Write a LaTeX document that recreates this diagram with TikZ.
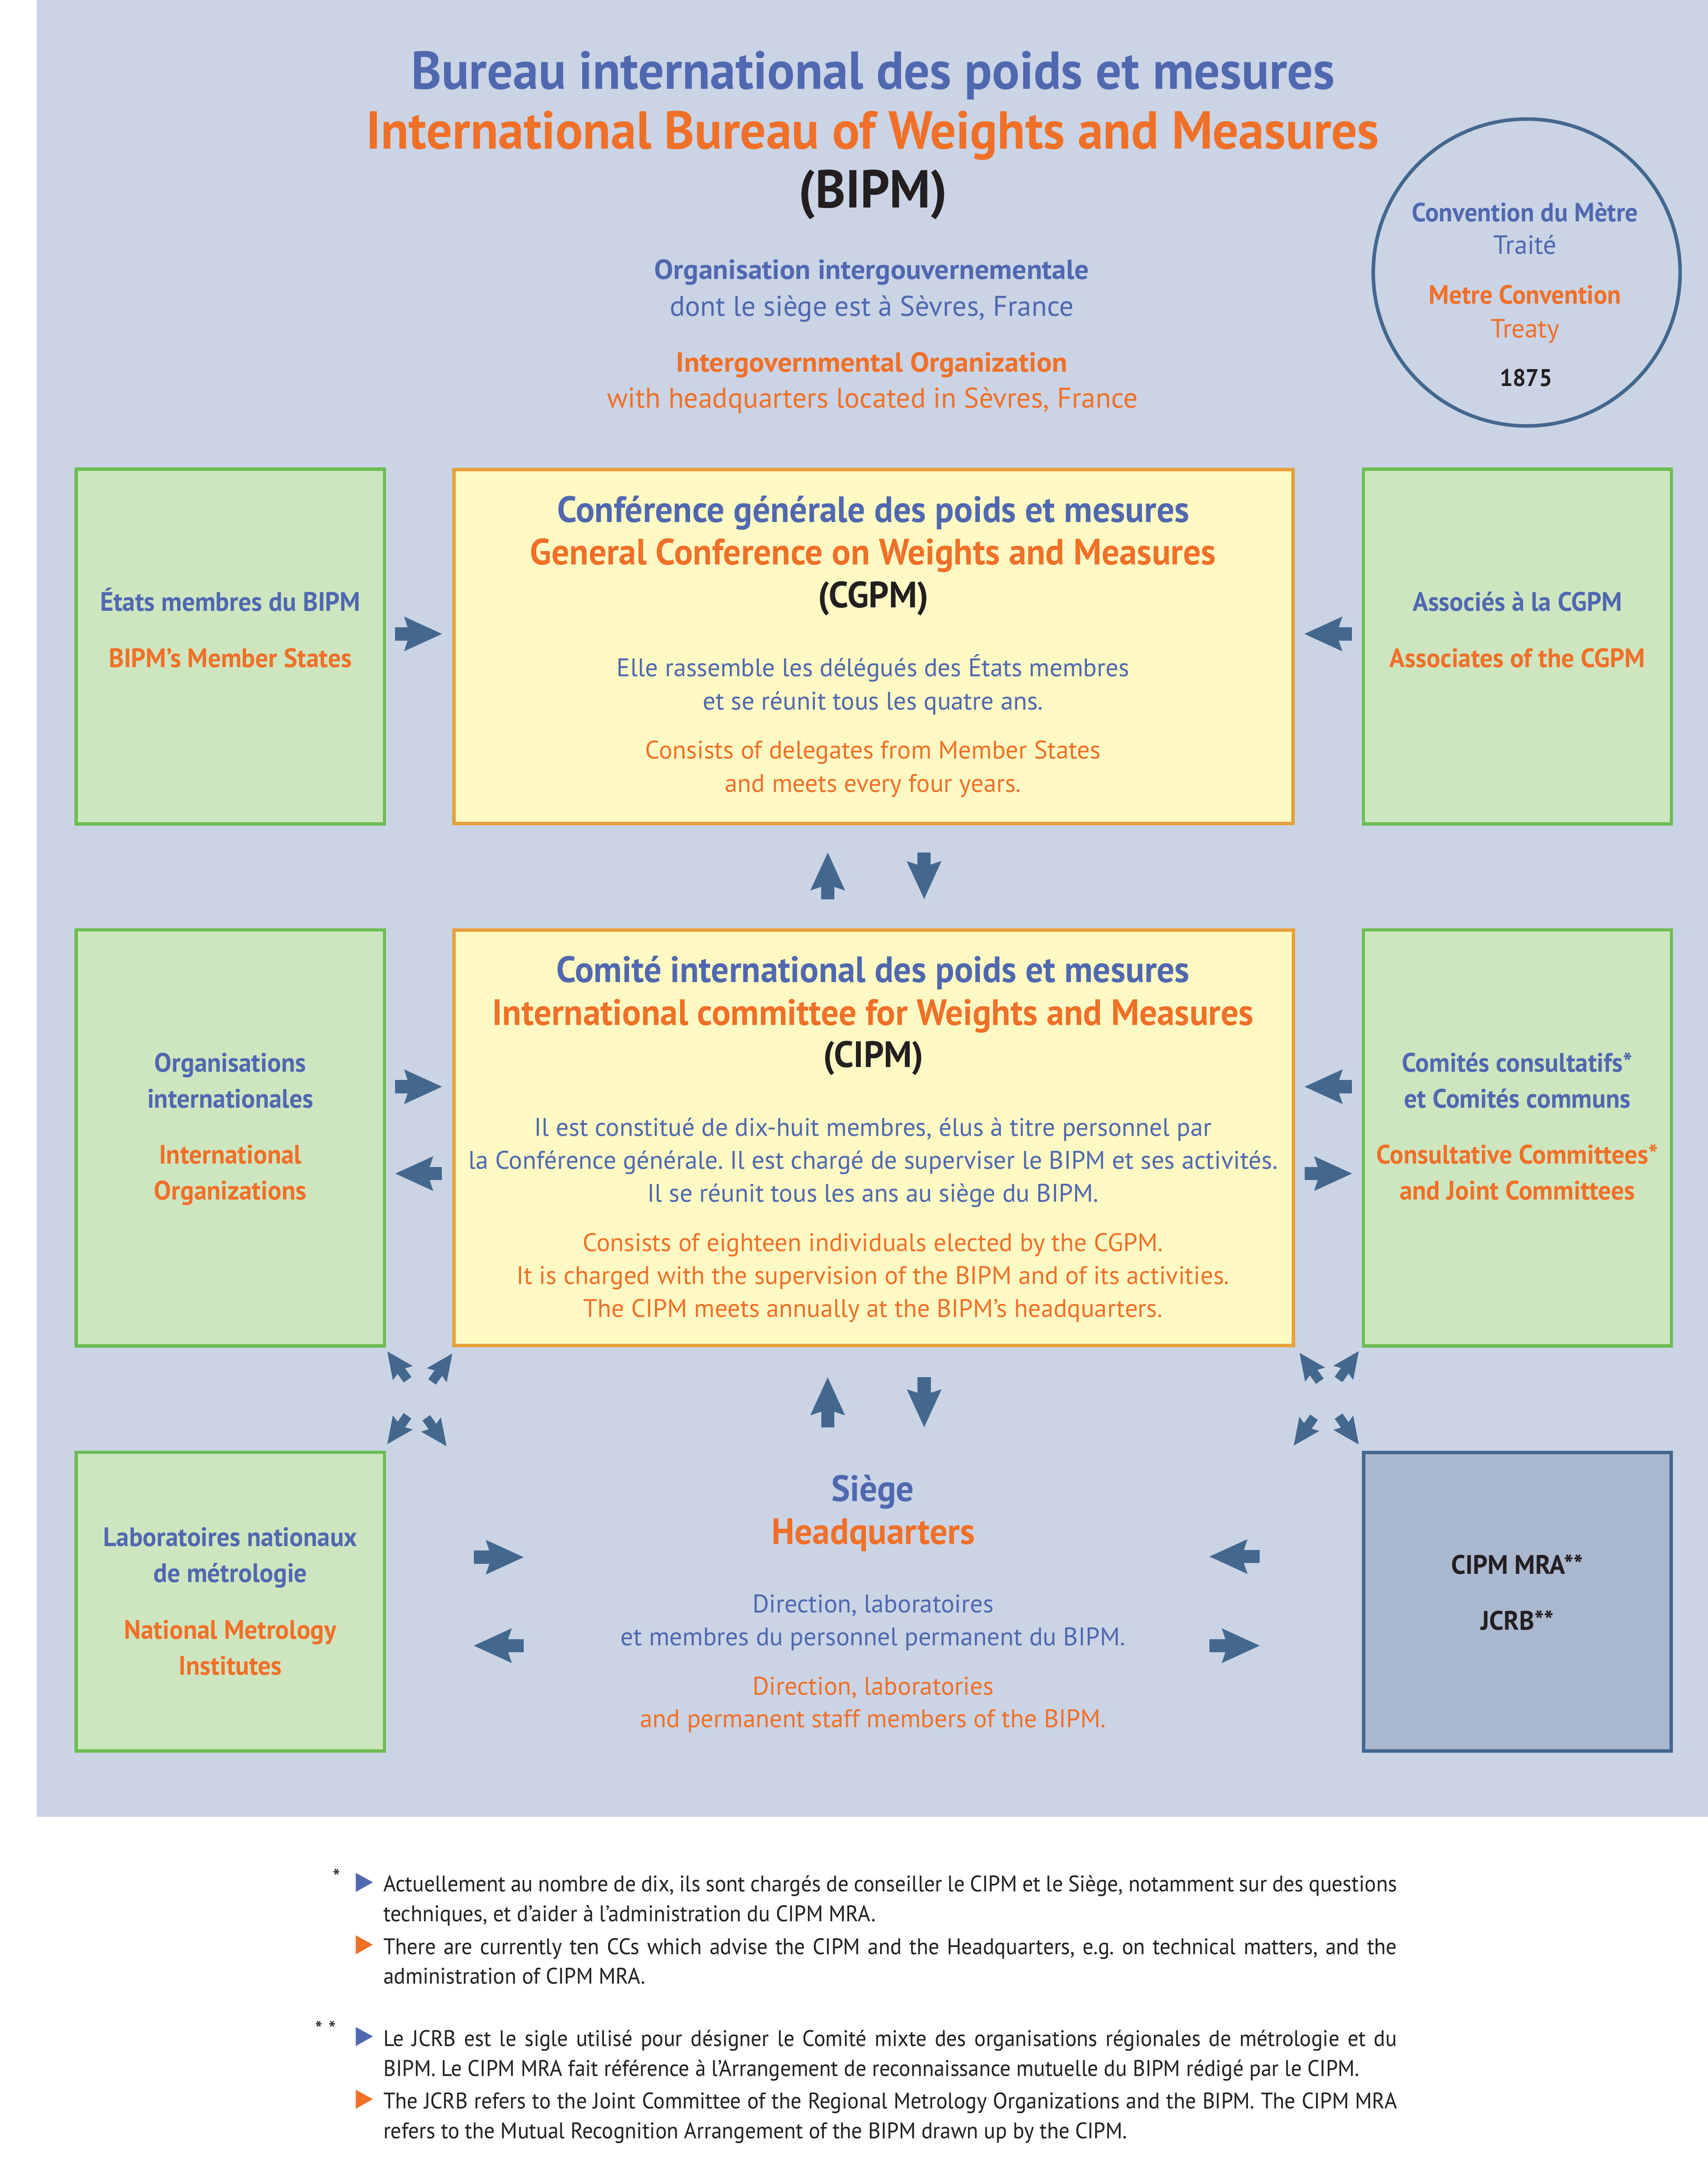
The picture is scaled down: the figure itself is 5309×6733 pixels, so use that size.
\documentclass[tikz,border=0pt]{standalone}
\usepackage{fontspec}
\setmainfont{PT Sans}[BoldFeatures={FakeStretch=0.96}]
\newfontfamily\subfont{PT Sans}[BoldFeatures={FakeStretch=1.03}]
\newfontfamily\notefont{PT Sans}[FakeStretch=0.95]
\usetikzlibrary{arrows.meta,calc}
\frenchspacing

\definecolor{panel}{HTML}{CAD4E5}
\definecolor{leaf}{HTML}{CEE6C0}
\definecolor{leafline}{HTML}{6CBD50}
\definecolor{cream}{HTML}{FFFAC4}
\definecolor{creamline}{HTML}{E6A03C}
\definecolor{steel}{HTML}{44678E}
\definecolor{slate}{HTML}{AAB8D0}
\definecolor{frblue}{HTML}{5068B0}
\definecolor{enorange}{HTML}{F07028}
\definecolor{ink}{HTML}{231F20}

\tikzset{
  greenbox/.style={draw=leafline, fill=leaf, line width=1pt, minimum width=95.8pt},
  yellowbox/.style={draw=creamline, fill=cream, line width=1.1pt, minimum width=260.9pt},
  mrabox/.style={draw=steel, fill=slate, line width=1.1pt, minimum width=95.7pt},
  ring/.style={draw=steel, line width=1.1pt, circle, minimum size=95.4pt},
  txt/.style={anchor=base},
  title/.style={txt, font=\fontsize{16.6}{19}\selectfont\bfseries},
  boxtitle/.style={txt, font=\fontsize{11.4}{13}\selectfont\bfseries},
  label/.style={txt, font=\fontsize{8.3}{10}\selectfont\bfseries},
  subhead/.style={txt, font=\subfont\fontsize{8.6}{10}\selectfont\bfseries},
  subtext/.style={txt, font=\fontsize{8.85}{10}\selectfont},
  ringhead/.style={txt, font=\fontsize{8.2}{10}\selectfont\bfseries},
  ringtext/.style={txt, font=\fontsize{8.2}{10}\selectfont},
  body/.style={txt, font=\fontsize{7.9}{10}\selectfont},
  note/.style={anchor=base west, text=ink, font=\notefont\fontsize{7}{9}\selectfont},
  flow/.style={draw=steel, line width=4.1pt,
    -{Stealth[length=11.8pt, width=10.8pt, inset=1.8pt, line width=0pt]}},
  smallflow/.style={draw=steel, line width=2.9pt,
    -{Stealth[length=8.3pt, width=7.6pt, inset=1.3pt, line width=0pt]}}
}

\begin{document}
\begin{tikzpicture}[x=0.1pt,y=0.1pt]
\tikzstyle{every node}+=[inner sep=0pt]
\useasboundingbox (0,0) rectangle (5309,-6733);
\fill[panel] (115,0) rectangle (5309,-5647);

\node[title, text=frblue] (bipmfr) at (2714,-277) {Bureau international des poids et mesures};
\node[title, text=enorange] (bipmen) at (2713,-462) {International Bureau of Weights and Measures};
\node[title, text=ink] (bipm) at (2714,-645) {(BIPM)};
\node[subhead, text=frblue] (orgfr) at (2710,-868) {Organisation intergouvernementale};
\node[subtext, text=frblue] (seatfr) at (2710,-982) {dont le siège est à Sèvres, France};
\node[subhead, text=enorange] (orgen) at (2710,-1156) {Intergovernmental Organization};
\node[subtext, text=enorange] (seaten) at (2712,-1268) {with headquarters located in Sèvres, France};

\node[ring] (treaty) at (4746,-847) {};
\node[ringhead, text=frblue] (convfr) at (4741,-689) {Convention du Mètre};
\node[ringtext, text=frblue] (traite) at (4741,-790) {Traité};
\node[ringhead, text=enorange] (conven) at (4741,-945) {Metre Convention};
\node[ringtext, text=enorange] (treatyen) at (4741,-1049) {Treaty};
\node[ringhead, text=ink, font=\fontsize{7.5}{10}\selectfont\bfseries] (year) at (4744,-1201) {1875};

\node[greenbox, minimum height=110.3pt] (states) at (716,-2009.5) {};
\node[yellowbox, minimum width=260.8pt, minimum height=110pt] (cgpm) at (2715.5,-2009.5) {};
\node[greenbox, minimum height=110.3pt] (assoc) at (4717,-2009.5) {};
\node[greenbox, minimum height=129.4pt] (orgs) at (716,-3537) {};
\node[yellowbox, minimum height=129.2pt] (cipm) at (2716,-3537) {};
\node[greenbox, minimum height=129.4pt] (ccs) at (4717,-3537) {};
\node[greenbox, minimum height=92.9pt] (labs) at (716,-4978.5) {};
\node[mrabox, minimum height=92.8pt] (mra) at (4717,-4978.5) {};

\node[label, text=frblue] (statesfr) at (716,-1900) {États membres du BIPM};
\node[label, text=enorange] (statesen) at (716,-2074) {BIPM’s Member States};
\node[label, text=frblue] (assocfr) at (4717,-1900) {Associés à la CGPM};
\node[label, text=enorange] (assocen) at (4717,-2074) {Associates of the CGPM};

\node[boxtitle, text=frblue] (cgpmfr) at (2715,-1623) {Conférence générale des poids et mesures};
\node[boxtitle, text=enorange] (cgpmen) at (2714,-1755) {General Conference on Weights and Measures};
\node[boxtitle, text=ink] (cgpmabbr) at (2715,-1888) {(CGPM)};
\node[body, text=frblue] (cgpmfra) at (2714,-2103) {Elle rassemble les délégués des États membres};
\node[body, text=frblue] (cgpmfrb) at (2714,-2206) {et se réunit tous les quatre ans.};
\node[body, text=enorange] (cgpmena) at (2714,-2359) {Consists of delegates from Member States};
\node[body, text=enorange] (cgpmenb) at (2714,-2462) {and meets every four years.};

\node[label, text=frblue] (orgsfra) at (716,-3332) {Organisations};
\node[label, text=frblue] (orgsfrb) at (716,-3444) {internationales};
\node[label, text=enorange] (orgsena) at (716,-3618) {International};
\node[label, text=enorange] (orgsenb) at (716,-3730) {Organizations};

\node[boxtitle, text=frblue] (cipmfr) at (2714,-3053) {Comité international des poids et mesures};
\node[boxtitle, text=enorange] (cipmen) at (2714,-3187) {International committee for Weights and Measures};
\node[boxtitle, text=ink] (cipmabbr) at (2715,-3317) {(CIPM)};
\node[body, text=frblue] (cipmfra) at (2714,-3531) {Il est constitué de dix-huit membres, élus à titre personnel par};
\node[body, text=frblue] (cipmfrb) at (2714,-3634) {la Conférence générale. Il est chargé de superviser le BIPM et ses activités.};
\node[body, text=frblue] (cipmfrc) at (2714,-3736) {Il se réunit tous les ans au siège du BIPM.};
\node[body, text=enorange] (cipmena) at (2714,-3889) {Consists of eighteen individuals elected by the CGPM.};
\node[body, text=enorange] (cipmenb) at (2714,-3992) {It is charged with the supervision of the BIPM and of its activities.};
\node[body, text=enorange] (cipmenc) at (2714,-4094) {The CIPM meets annually at the BIPM’s headquarters.};

\node[label, text=frblue] (ccsfra) at (4717,-3332) {Comités consultatifs*};
\node[label, text=frblue] (ccsfrb) at (4717,-3444) {et Comités communs};
\node[label, text=enorange] (ccsena) at (4717,-3618) {Consultative Committees*};
\node[label, text=enorange] (ccsenb) at (4717,-3730) {and Joint Committees};

\node[label, text=frblue] (labsfra) at (716,-4807) {Laboratoires nationaux};
\node[label, text=frblue] (labsfrb) at (716,-4919) {de métrologie};
\node[label, text=enorange] (labsena) at (716,-5095) {National Metrology};
\node[label, text=enorange] (labsenb) at (716,-5206) {Institutes};

\node[boxtitle, text=frblue] (siegefr) at (2713,-4667) {Siège};
\node[boxtitle, text=enorange] (siegeen) at (2715,-4800) {Headquarters};
\node[body, text=frblue] (siegefra) at (2714,-5013) {Direction, laboratoires};
\node[body, text=frblue] (siegefrb) at (2714,-5115) {et membres du personnel permanent du BIPM.};
\node[body, text=enorange] (siegeena) at (2714,-5268) {Direction, laboratories};
\node[body, text=enorange] (siegeenb) at (2714,-5369) {and permanent staff members of the BIPM.};

\node[label, text=ink] (mraa) at (4717,-4893) {CIPM MRA**};
\node[label, text=ink] (mrab) at (4717,-5066) {JCRB**};

\draw[flow] ($(states.east)+(28,39)$) -- ($(cgpm.west)+(-32,39)$);
\draw[flow] ($(assoc.west)+(-30,39)$) -- ($(cgpm.east)+(30,39)$);
\draw[flow] ($(cipm.north)+(-143,90)$) -- ($(cgpm.south)+(-142,-85)$);
\draw[flow] ($(cgpm.south)+(157,-85)$) -- ($(cipm.north)+(157,91)$);
\draw[flow] ($(orgs.east)+(28,159)$) -- ($(cipm.west)+(-32,159)$);
\draw[flow] ($(cipm.west)+(-32,-111)$) -- ($(orgs.east)+(29,-111)$);
\draw[flow] ($(ccs.west)+(-30,159)$) -- ($(cipm.east)+(30,159)$);
\draw[flow] ($(cipm.east)+(30,-111)$) -- ($(ccs.west)+(-30,-111)$);
\draw[flow] ($(cipm.south)+(-143,-248)$) -- ($(cipm.south)+(-143,-93)$);
\draw[flow] ($(cipm.south)+(157,-92)$) -- ($(cipm.south)+(157,-248)$);
\draw[flow] ($(labs.east)+(273,138)$) -- ($(labs.east)+(428,138)$);
\draw[flow] ($(labs.east)+(428,-137)$) -- ($(labs.east)+(273,-137)$);
\draw[flow] ($(mra.west)+(-317,140)$) -- ($(mra.west)+(-473,140)$);
\draw[flow] ($(mra.west)+(-473,-137)$) -- ($(mra.west)+(-317,-137)$);

\draw[smallflow] ($(orgs.south east)+(67,-100)$) -- ($(orgs.south east)+(4,-12)$);
\draw[smallflow] ($(cipm.south west)+(-63,-107)$) -- ($(cipm.south west)+(0,-19)$);
\draw[smallflow] ($(labs.north east)+(67,108)$) -- ($(labs.north east)+(4,20)$);
\draw[smallflow] ($(cipm.south west)+(-81,-219)$) -- ($(cipm.south west)+(-18,-307)$);
\draw[smallflow] ($(cipm.south east)+(77,-105)$) -- ($(cipm.south east)+(14,-17)$);
\draw[smallflow] ($(ccs.south west)+(-72,-99)$) -- ($(ccs.south west)+(-9,-11)$);
\draw[smallflow] ($(cipm.south east)+(59,-217)$) -- ($(cipm.south east)+(-4,-305)$);
\draw[smallflow] ($(mra.north west)+(-72,107)$) -- ($(mra.north west)+(-9,19)$);

\node[note, anchor=base] (star) at (1047,-5860) {*};
\fill[frblue] (1106,-5822) -- (1159,-5851) -- (1106,-5881) -- cycle;
\node[note] (notea) at (1190,-5880) {\makebox[315.1pt][s]{Actuellement au nombre de dix, ils sont chargés de conseiller le CIPM et le Siège, notamment sur des questions}};
\node[note] (noteb) at (1190,-5973) {techniques, et d’aider à l’administration du CIPM MRA.};
\fill[enorange] (1106,-6016) -- (1159,-6045) -- (1106,-6075) -- cycle;
\node[note] (notec) at (1190,-6075) {\makebox[315.1pt][s]{There are currently ten CCs which advise the CIPM and the Headquarters, e.g. on technical matters, and the}};
\node[note] (noted) at (1190,-6167) {administration of CIPM MRA.};
\node[note, anchor=base] (stars) at (1012,-6332) {* *};
\fill[frblue] (1106,-6301) -- (1159,-6330) -- (1106,-6360) -- cycle;
\node[note] (notee) at (1190,-6360) {\makebox[315.1pt][s]{Le JCRB est le sigle utilisé pour désigner le Comité mixte des organisations régionales de métrologie et du}};
\node[note] (notef) at (1190,-6454) {BIPM. Le CIPM MRA fait référence à l’Arrangement de reconnaissance mutuelle du BIPM rédigé par le CIPM.};
\fill[enorange] (1106,-6496) -- (1159,-6525) -- (1106,-6555) -- cycle;
\node[note] (noteg) at (1190,-6555) {\makebox[315.1pt][s]{The JCRB refers to the Joint Committee of the Regional Metrology Organizations and the BIPM. The CIPM MRA}};
\node[note] (noteh) at (1190,-6648) {refers to the Mutual Recognition Arrangement of the BIPM drawn up by the CIPM.};
\end{tikzpicture}
\end{document}
